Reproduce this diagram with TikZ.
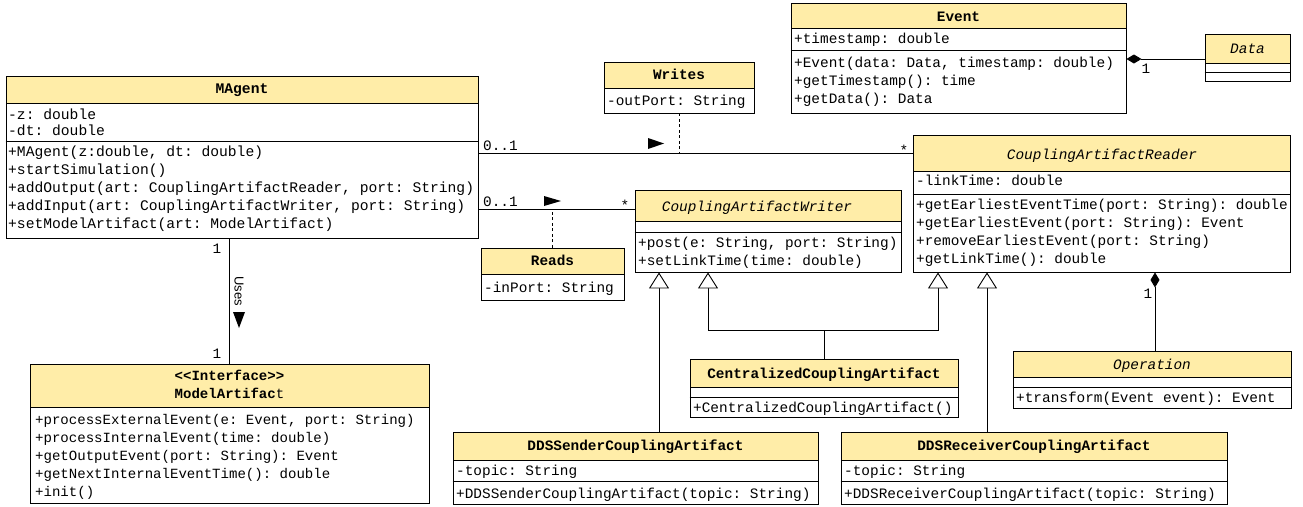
\documentclass[tikz,border=0pt]{standalone}
\usepackage{fontspec}
\setmonofont{Liberation Mono}
\newfontfamily\sansf{Liberation Sans}
\usetikzlibrary{arrows.meta,fit}
\definecolor{hdrcol}{HTML}{FFEDA8}
\tikzset{
  cls/.style={draw=black, line width=0.9pt, inner sep=0pt},
  tx/.style={inner sep=0pt, font=\fontsize{14.4}{18}\selectfont\ttfamily},
  txbig/.style={font=\fontsize{14.65}{18}\selectfont\ttfamily},
  txsmall/.style={font=\fontsize{14.05}{18}\selectfont\ttfamily},
  lnk/.style={draw=black, line width=0.9pt},
  dlink/.style={draw=black, line width=0.9pt, dash pattern=on 3pt off 2.5pt},
  gen/.style={lnk, -{Triangle[open, length=16pt, width=20pt, fill=white, line width=0.9pt]}},
  comp/.style={lnk, {Diamond[length=15pt, width=9pt]}-},
}
\newcommand\umlbox[6]{%
  \fill[hdrcol] (#2,#3) rectangle (#4,#6);
  \draw[line width=0.9pt] (#2,#6) -- (#4,#6);
  \node[cls, fit={(#2,#3) (#4,#5)}] (#1) {};
}
\newcommand\divl[2]{\draw[line width=0.9pt] (#1.west |- 0,#2) -- (#1.east |- 0,#2);}
\newcommand\rows[5][]{\foreach \rowtext [count=\rowi from 0] in {#5}{\node[tx,#1,anchor=base west] at (#2,{#3+\rowi*#4}) {\rowtext};}}
\begin{document}
\begin{tikzpicture}[x=1pt,y=-1pt]
\useasboundingbox (0,0) rectangle (1303,506);

% MAgent
\umlbox{magent}{6}{76}{478}{238}{103}
\divl{magent}{141}
\node[tx,txbig,anchor=base] (magentT) at (242,93) {\textbf{MAgent}};
\rows[txbig]{8}{119}{16}{{-z: double},{-dt: double}}
\rows[txbig]{8}{156}{18}{{+MAgent(z:double, dt: double)},{+startSimulation()},{+addOutput(art: CouplingArtifactReader, port: String)},{+addInput(art: CouplingArtifactWriter, port: String)},{+setModelArtifact(art: ModelArtifact)}}

% Writes
\umlbox{writes}{604}{62}{754}{113}{88}
\node[tx,anchor=base] (writesT) at (679,79) {\textbf{Writes}};
\rows{607}{105}{18}{{-outPort: String}}

% Reads
\umlbox{reads}{481}{248}{624}{300}{274}
\node[tx,anchor=base] (readsT) at (552.5,265) {\textbf{Reads}};
\rows{484}{292}{18}{{-inPort: String}}

% CouplingArtifactWriter
\umlbox{writer}{635}{190}{901}{272}{221}
\divl{writer}{232}
\node[tx,anchor=base] (writerT) at (757,211) {\textit{CouplingArtifactWriter}};
\rows{638}{247}{18}{{+post(e: String, port: String)},{+setLinkTime(time: double)}}

% CouplingArtifactReader
\umlbox{reader}{913}{135}{1290}{272}{171}
\divl{reader}{194}
\node[tx,anchor=base] (readerT) at (1102,159) {\textit{CouplingArtifactReader}};
\rows{916}{185}{18}{{-linkTime: double}}
\rows{916}{209}{18}{{+getEarliestEventTime(port: String): double},{+getEarliestEvent(port: String): Event},{+removeEarliestEvent(port: String)},{+getLinkTime(): double}}

% Event
\umlbox{event}{791}{3}{1126}{113}{28}
\divl{event}{50}
\node[tx,anchor=base] (eventT) at (958.5,21) {\textbf{Event}};
\rows{794}{43}{18}{{+timestamp: double}}
\rows{794}{67}{18}{{+Event(data: Data, timestamp: double)},{+getTimestamp(): time},{+getData(): Data}}

% Data
\umlbox{data}{1205}{34}{1290}{81}{63}
\divl{data}{72}
\node[tx,anchor=base] (dataT) at (1247.5,53) {\textit{Data}};

% Operation
\umlbox{operation}{1013}{351}{1291}{408}{377}
\divl{operation}{387}
\node[tx,anchor=base] (operationT) at (1152,369) {\textit{Operation}};
\rows{1016}{402}{18}{{+transform(Event event): Event}}

% ModelArtifact
\umlbox{modelart}{30}{364}{429}{503}{407}
\node[tx,txsmall,anchor=base] (modelartA) at (229.5,380) {\textbf{<<Interface>>}};
\node[tx,txsmall,anchor=base] (modelartT) at (229.5,398) {\textbf{ModelArtifac}t};
\rows[txsmall]{35}{424}{18}{{+processExternalEvent(e: Event, port: String)},{+processInternalEvent(time: double)},{+getOutputEvent(port: String): Event},{+getNextInternalEventTime(): double},{+init()}}

% CentralizedCouplingArtifact
\umlbox{centr}{690}{359}{958}{417}{387}
\divl{centr}{397}
\node[tx,anchor=base] (centrT) at (824,378) {\textbf{CentralizedCouplingArtifact}};
\rows{693}{412}{18}{{+CentralizedCouplingArtifact()}}

% DDSSenderCouplingArtifact
\umlbox{sender}{453}{432}{818}{504}{460}
\divl{sender}{481}
\node[tx,anchor=base] (senderT) at (635.5,450) {\textbf{DDSSenderCouplingArtifact}};
\rows{456}{475}{23}{{-topic: String},{+DDSSenderCouplingArtifact(topic: String)}}

% DDSReceiverCouplingArtifact
\umlbox{receiver}{841}{432}{1227}{504}{460}
\divl{receiver}{481}
\node[tx,anchor=base] (receiverT) at (1034,450) {\textbf{DDSReceiverCouplingArtifact}};
\rows{844}{475}{23}{{-topic: String},{+DDSReceiverCouplingArtifact(topic: String)}}

% ---- connectors ----
% Writes association
\draw[lnk] (magent.east |- 0,153) -- (reader.west |- 0,153);
\node[tx,anchor=base west] (w01) at (483,150) {0..1};
\node[tx,anchor=base] (wstar) at (904,155) {*};
\fill (648,138) -- (664,143.5) -- (648,149) -- cycle;
\draw[dlink] (writes.south) -- (writes.south |- 0,153);

% Reads association
\draw[lnk] (magent.east |- 0,209) -- (writer.west |- 0,209);
\node[tx,anchor=base west] (r01) at (483,206) {0..1};
\node[tx,anchor=base] (rstar) at (625,210) {*};
\fill (544,196) -- (561,201) -- (544,206) -- cycle;
\draw[dlink] (reads.north) -- (reads.north |- 0,209);

% Uses
\draw[lnk] (magent.south -| modelart.north) -- (modelart.north);
\node[tx,anchor=base] (u1a) at (217,253) {1};
\node[tx,anchor=base] (u1b) at (217,358) {1};
\node[inner sep=0pt, rotate=-90, font=\sansf\fontsize{13}{15}\selectfont] (uses) at (239,291) {Uses};
\fill (233,312) -- (245,312) -- (239,328) -- cycle;

% Event - Data composition
\draw[comp] (event.east |- 0,59) -- (data.west |- 0,59);
\node[tx,anchor=base] (e1) at (1146,73) {1};

% Reader - Operation composition
\draw[comp] (reader.south -| 1155,0) -- (operation.north -| 1155,0);
\node[tx,anchor=base] (o1) at (1148,298) {1};

% Generalizations
\draw[gen] (sender.north -| 659,0) -- (writer.south -| 659,0);
\draw[lnk] (centr.north) -- (centr.north |- 0,330) coordinate (cj);
\draw[gen] (cj) -| (writer.south -| 708,0);
\draw[gen] (cj) -| (reader.south -| 938,0);
\draw[gen] (receiver.north -| 987,0) -- (reader.south -| 987,0);
\end{tikzpicture}
\end{document}
